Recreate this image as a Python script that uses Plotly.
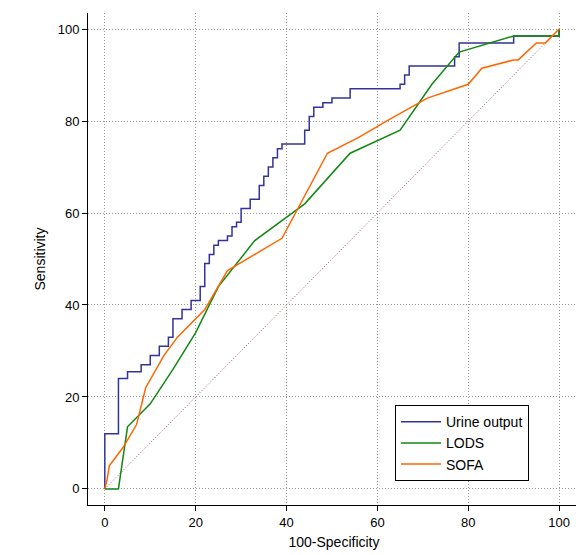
import plotly.graph_objects as go

urine_x = [0,0,3,3,5,5,8,8,10,10,12,12,14,14,15,15,17,17,19,19,21,21,22,22,23,23,24,24,25,25,27,27,28,28,29,29,30,30,32,32,34,34,35,35,36,36,37,37,38,38,39,39,44,44,45,45,46,46,48,48,50,50,54,54,65,65,66,66,67,67,77,77,78,78,90,90,100,100]
urine_y = [0,12,12,24,24,25.5,25.5,27,27,29,29,31,31,33,33,37,37,39,39,41,41,44,44,49,49,51,51,53,53,54,54,55,55,57,57,58,58,61,61,63,63,66,66,68,68,70,70,72,72,74,74,75,75,78,78,81,81,83,83,84,84,85,85,87,87,88,88,90,90,92,92,94,94,97,97,98.5,98.5,100]
lods_x = [0,3,5,10,15,20,25,33,44,54,65,72,78,90,100,100]
lods_y = [0,0,13.5,18.5,26,34,44,54,62,73,78,88,95,98.5,98.5,100]
sofa_x = [0,0.5,1,4,7,9,13,16,22,27,39,49,56,62,71,80,83,90,91,95,97,100]
sofa_y = [0,2,5,9,14,22,29,33,39,47.5,54.5,73,76.5,80,85,88,91.5,93.3,93.3,97,97,100]
diag = [0,100]

fig = go.Figure()
fig.add_trace(go.Scatter(x=diag, y=diag, mode="lines", line=dict(color="#a05050", width=1, dash="1px,2px"), showlegend=False))
fig.add_trace(go.Scatter(x=urine_x, y=urine_y, mode="lines", name="Urine output", line=dict(color="#333399", width=1.5)))
fig.add_trace(go.Scatter(x=lods_x, y=lods_y, mode="lines", name="LODS", line=dict(color="#118811", width=1.5)))
fig.add_trace(go.Scatter(x=sofa_x, y=sofa_y, mode="lines", name="SOFA", line=dict(color="#ff6600", width=1.5)))

ax = dict(showline=True, linecolor="black", linewidth=1, ticks="outside", ticklen=5, tickcolor="black",
          showgrid=True, gridcolor="#999999", griddash="1px,2px", gridwidth=1, zeroline=False,
          tickfont=dict(size=13, color="black"), dtick=20, automargin=False)
fig.update_layout(
    width=584, height=555, margin=dict(l=80, r=12, t=5, b=58),
    plot_bgcolor="white", paper_bgcolor="white",
    font=dict(family="Liberation Sans, Arial, sans-serif", color="black"),
    xaxis=dict(ax, range=[-3.7, 104.6], title=dict(text="100-Specificity", font=dict(size=14), standoff=8)),
    yaxis=dict(ax, range=[-3.5, 103.5], title=dict(text="Sensitivity", font=dict(size=14), standoff=8)),
    legend=dict(x=0.624, y=0.203, xanchor="left", yanchor="top", bordercolor="black", borderwidth=1,
                bgcolor="white", font=dict(size=14), tracegroupgap=0, itemwidth=40),
)
fig.write_html("out.html")
